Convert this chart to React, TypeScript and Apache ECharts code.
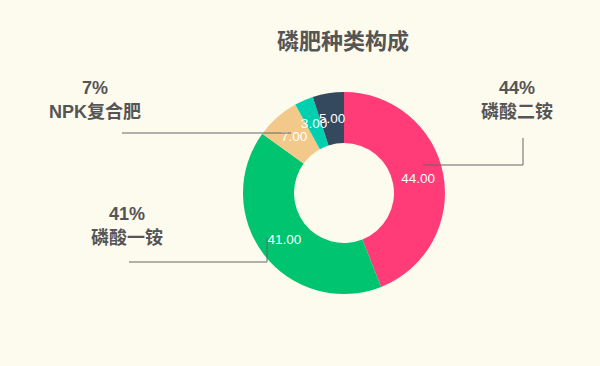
import React, { useEffect, useRef } from 'react';
import * as echarts from 'echarts';

const chartTitle = '磷肥种类构成';
const categories = ['磷酸二铵', '磷酸一铵', 'NPK复合肥', '钙镁磷肥', '过磷酸钙'];
const values = [44, 41, 7, 3, 5];
const colors = ['#ff3b78', '#00c470', '#f2c98a', '#00cfb0', '#34495e'];
const outerLabelShown = [true, true, true, false, false];

const FONT = "'Liberation Sans', Arial, 'Noto Sans CJK SC', sans-serif";
const TEXT = '#555555';

const CX = 344;
const CY = 193;
const R0 = 50;
const R1 = 101;

export default function App() {
  const ref = useRef<HTMLDivElement>(null);

  useEffect(() => {
    if (!ref.current) return;
    const chart = echarts.init(ref.current, null, { renderer: 'svg' });

    const total = values.reduce((a, b) => a + b, 0);
    const midAngles: number[] = [];
    let cum = 0;
    values.forEach((v) => {
      midAngles.push(((cum + v / 2) / total) * Math.PI * 2);
      cum += v;
    });
    const rMid = (R0 + R1) / 2;

    // leader-line layout for the outer labels (label centre + polyline)
    const leaders: Record<number, { x: number; y: number; pts: number[][] }> = {
      0: { x: 517, y: 100, pts: [[423, 165], [523, 165], [523, 138]] },
      1: { x: 127, y: 226, pts: [[267, 238], [267, 262], [129, 262]] },
      2: { x: 95, y: 100, pts: [[291, 133], [206, 133], [122, 133]] },
    };

    const data = categories.map((name, i) => ({
      name,
      value: values[i],
      itemStyle: { color: colors[i] },
    }));

    const outerData = categories.map((name, i) => ({
      name,
      value: values[i],
      label: { show: outerLabelShown[i] },
      labelLine: { show: outerLabelShown[i] },
    }));

    chart.setOption({
      animation: false,
      backgroundColor: '#fdfaee',
      title: {
        text: chartTitle,
        left: 277,
        top: 30,
        padding: 0,
        textStyle: { fontSize: 22, fontWeight: 'bold', color: TEXT, fontFamily: FONT },
      },
      series: [
        {
          type: 'pie',
          center: [CX, CY],
          radius: [R0, R1],
          startAngle: 90,
          clockwise: true,
          avoidLabelOverlap: false,
          silent: true,
          data,
          label: {
            show: true,
            position: 'outside',
            color: '#ffffff',
            fontSize: 13.5,
            fontFamily: FONT,
            formatter: (p: any) => Number(p.value).toFixed(2),
          },
          labelLine: { show: false },
          labelLayout: (params: any) => {
            const a = midAngles[params.dataIndex];
            return {
              x: CX + rMid * Math.sin(a),
              y: CY - rMid * Math.cos(a),
              align: 'center',
              verticalAlign: 'middle',
            };
          },
        },
        {
          type: 'pie',
          center: [CX, CY],
          radius: [R0, R1],
          startAngle: 90,
          clockwise: true,
          avoidLabelOverlap: false,
          silent: true,
          z: 3,
          itemStyle: { color: 'transparent' },
          data: outerData,
          label: {
            show: true,
            position: 'outside',
            formatter: '{p|{d}%}\n{n|{b}}',
            rich: {
              p: { fontSize: 18, fontWeight: 'bold', color: TEXT, lineHeight: 24, fontFamily: FONT, align: 'center' },
              n: { fontSize: 18, fontWeight: 'bold', color: TEXT, lineHeight: 24, fontFamily: FONT, align: 'center' },
            },
          },
          labelLine: {
            show: true,
            lineStyle: { color: '#666666', width: 1 },
          },
          labelLayout: (params: any) => {
            const l = leaders[params.dataIndex];
            if (!l) return {};
            return {
              x: l.x,
              y: l.y,
              align: 'center',
              verticalAlign: 'middle',
              labelLinePoints: l.pts,
            };
          },
        },
      ],
    });

    return () => chart.dispose();
  }, []);

  return (
    <div
      ref={ref}
      style={{ position: 'absolute', left: 0, top: 0, width: 600, height: 366 }}
    />
  );
}
